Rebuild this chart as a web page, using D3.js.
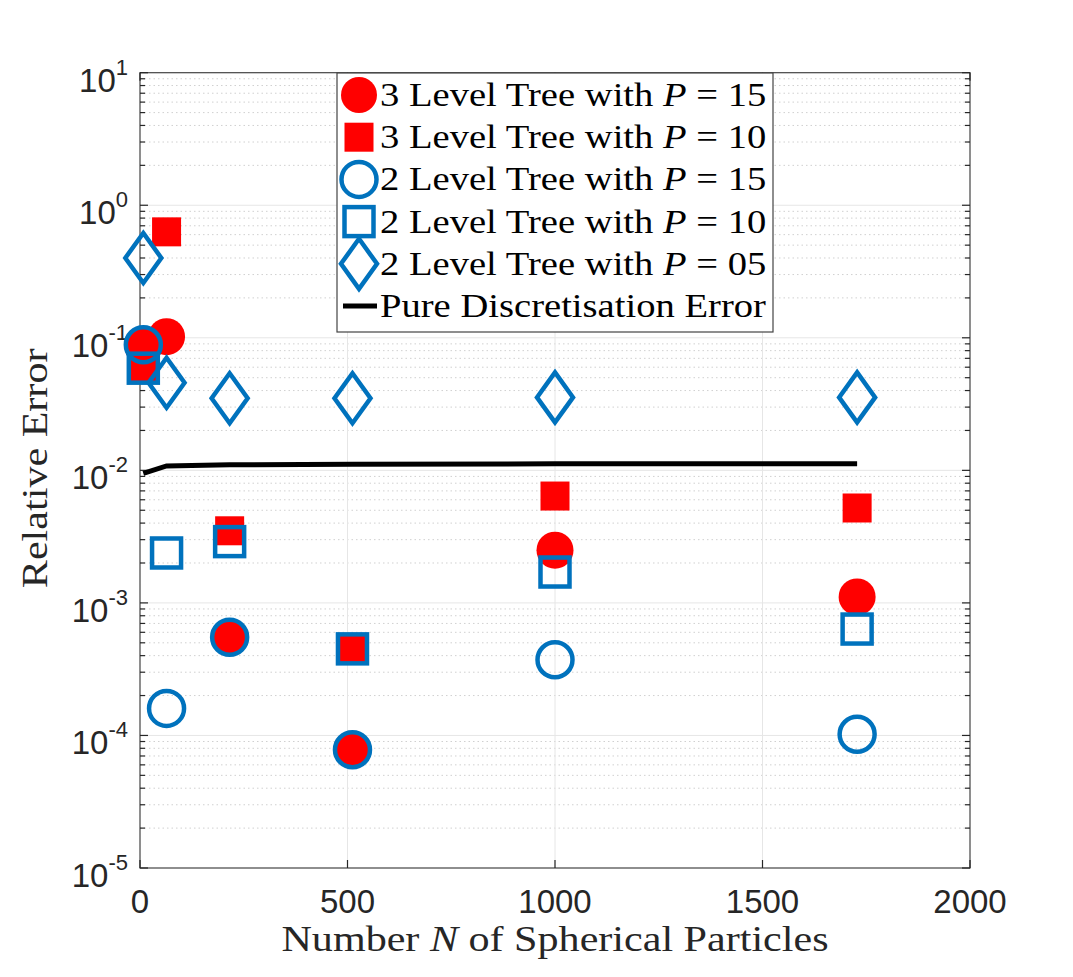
<!DOCTYPE html>
<html><head><meta charset="utf-8">
<script src="https://cdn.jsdelivr.net/npm/d3@7"></script>
<style>body{margin:0;background:#fff}svg{display:block}</style>
</head><body>
<svg id="chart" width="1073" height="977"></svg>
<script>
const N = [8, 64, 216, 512, 1000, 1728];
const tree3P15 = [0.085, 0.102, 5.5e-4, 7.8e-5, 2.5e-3, 1.11e-3];
const tree3P10 = [0.059, 0.63, 3.5e-3, 4.5e-4, 6.4e-3, 5.2e-3];
const tree2P15 = [0.0885, 1.6e-4, 5.5e-4, 7.8e-5, 3.73e-4, 1.02e-4];
const tree2P10 = [0.059, 2.38e-3, 2.9e-3, 4.5e-4, 1.71e-3, 6.35e-4];
const tree2P05 = [0.40, 0.0458, 0.035, 0.035, 0.0355, 0.0355];
const pureErr = [0.0095, 0.0108, 0.0110, 0.0111, 0.0112, 0.0112];
const xTicks = [0, 500, 1000, 1500, 2000];
const yExps = [-5, -4, -3, -2, -1, 0, 1];
const legendLabels = ["3 Level Tree with ", "3 Level Tree with ", "2 Level Tree with ", "2 Level Tree with ", "2 Level Tree with ", "Pure Discretisation Error"];
const legendP = ["15", "10", "15", "10", "05", null];

const RED = "#ff0000", BLUE = "#0072bd", AX = "#262626";
const L = 140, R = 970, T = 72.7, B = 868;
const SX = 1.17; // horizontal stretch to mimic Computer Modern widths
const svg = d3.select("#chart");
const x = d3.scaleLinear().domain([0, 2000]).range([L, R]);
const y = d3.scaleLog().domain([1e-5, 10]).range([B, T]);

// grids
const g = svg.append("g");
const minors = [];
for (let e = -5; e < 1; e++) for (let m = 2; m <= 9; m++) minors.push(m * Math.pow(10, e));
g.selectAll(".mg").data(minors).enter().append("line")
  .attr("x1", L).attr("x2", R).attr("y1", d => y(d)).attr("y2", d => y(d))
  .attr("stroke", "#d0d0d0").attr("stroke-width", 1).attr("stroke-dasharray", "1.5,3");
g.selectAll(".Mg").data(yExps.slice(1, -1)).enter().append("line")
  .attr("x1", L).attr("x2", R).attr("y1", d => y(Math.pow(10, d))).attr("y2", d => y(Math.pow(10, d)))
  .attr("stroke", "#e6e6e6").attr("stroke-width", 1);
g.selectAll(".Xg").data(xTicks.slice(1, -1)).enter().append("line")
  .attr("x1", d => x(d)).attr("x2", d => x(d)).attr("y1", T).attr("y2", B)
  .attr("stroke", "#e6e6e6").attr("stroke-width", 1);

// axes box and ticks
const ax = svg.append("g").attr("stroke", AX).attr("stroke-width", 1.2).attr("fill", "none");
ax.append("rect").attr("x", L).attr("y", T).attr("width", R - L).attr("height", B - T).attr("stroke", "#444");
yExps.forEach(e => {
  const yy = y(Math.pow(10, e));
  ax.append("line").attr("x1", L).attr("x2", L + 8).attr("y1", yy).attr("y2", yy);
  ax.append("line").attr("x1", R).attr("x2", R - 8).attr("y1", yy).attr("y2", yy);
});
minors.forEach(v => {
  const yy = y(v);
  ax.append("line").attr("x1", L).attr("x2", L + 5).attr("y1", yy).attr("y2", yy);
  ax.append("line").attr("x1", R).attr("x2", R - 5).attr("y1", yy).attr("y2", yy);
});
xTicks.forEach(t => {
  ax.append("line").attr("x1", x(t)).attr("x2", x(t)).attr("y1", B).attr("y2", B - 8);
  ax.append("line").attr("x1", x(t)).attr("x2", x(t)).attr("y1", T).attr("y2", T + 8);
});

// tick labels
const tf = "'Liberation Sans', Arial, Helvetica, sans-serif";
svg.append("g").selectAll("text").data(xTicks).enter().append("text")
  .attr("x", d => x(d)).attr("y", 913).attr("text-anchor", "middle")
  .attr("font-family", tf).attr("font-size", 33).attr("fill", AX).text(d => d);
yExps.forEach(e => {
  const yy = y(Math.pow(10, e));
  const t = svg.append("text").attr("x", 128).attr("y", yy + 19).attr("text-anchor", "end")
    .attr("font-family", tf).attr("font-size", 33).attr("fill", AX);
  t.append("tspan").text("10");
  t.append("tspan").attr("dy", -17).attr("font-size", 22).text(e);
});

// axis labels
const sf = "'Liberation Serif', 'Times New Roman', serif";
const xl = svg.append("text").attr("transform", `translate(${x(1000)},951) scale(${SX},1)`).attr("text-anchor", "middle")
  .attr("font-family", sf).attr("font-size", 36).attr("fill", AX);
xl.append("tspan").text("Number ");
xl.append("tspan").attr("font-style", "italic").text("N");
xl.append("tspan").text(" of Spherical Particles");
svg.append("text").attr("transform", `translate(47,${(T + B) / 2 - 2}) rotate(-90) scale(${SX},1)`).attr("text-anchor", "middle")
  .attr("font-family", sf).attr("font-size", 36).attr("fill", AX).text("Relative Error");

// marks
const plot = svg.append("g");
const pts = (arr) => N.map((n, i) => ({ n, v: arr[i] }));
plot.selectAll(".rc").data(pts(tree3P15)).enter().append("circle")
  .attr("cx", d => x(d.n)).attr("cy", d => y(d.v)).attr("r", 18.5).attr("fill", RED);
plot.selectAll(".rs").data(pts(tree3P10)).enter().append("rect")
  .attr("x", d => x(d.n) - 14.5).attr("y", d => y(d.v) - 14.5).attr("width", 29).attr("height", 29).attr("fill", RED);
plot.selectAll(".bc").data(pts(tree2P15)).enter().append("circle")
  .attr("cx", d => x(d.n)).attr("cy", d => y(d.v)).attr("r", 17.5)
  .attr("fill", "none").attr("stroke", BLUE).attr("stroke-width", 4.5);
plot.selectAll(".bs").data(pts(tree2P10)).enter().append("rect")
  .attr("x", d => x(d.n) - 14.5).attr("y", d => y(d.v) - 14.5).attr("width", 29).attr("height", 29)
  .attr("fill", "none").attr("stroke", BLUE).attr("stroke-width", 4.5);
const diamond = (cx, cy) => `M${cx},${cy - 25}L${cx + 18},${cy}L${cx},${cy + 25}L${cx - 18},${cy}Z`;
plot.selectAll(".bd").data(pts(tree2P05)).enter().append("path")
  .attr("d", d => diamond(x(d.n), y(d.v)))
  .attr("fill", "none").attr("stroke", BLUE).attr("stroke-width", 4.5).attr("stroke-linejoin", "miter");
plot.append("path").datum(pts(pureErr))
  .attr("d", d3.line().x(d => x(d.n)).y(d => y(d.v)))
  .attr("fill", "none").attr("stroke", "#000").attr("stroke-width", 5);

// legend
const lg = svg.append("g");
lg.append("rect").attr("x", 337).attr("y", 73).attr("width", 436).attr("height", 259)
  .attr("fill", "#fff").attr("stroke", "#444").attr("stroke-width", 1.2);
const rowY = i => 95 + i * 42.2;
const mx = 359;
lg.append("circle").attr("cx", mx).attr("cy", rowY(0)).attr("r", 18).attr("fill", RED);
lg.append("rect").attr("x", mx - 14.5).attr("y", rowY(1) - 14.5).attr("width", 29).attr("height", 29).attr("fill", RED);
lg.append("circle").attr("cx", mx).attr("cy", rowY(2)).attr("r", 17.5).attr("fill", "none").attr("stroke", BLUE).attr("stroke-width", 4.5);
lg.append("rect").attr("x", mx - 14.5).attr("y", rowY(3) - 14.5).attr("width", 29).attr("height", 29).attr("fill", "none").attr("stroke", BLUE).attr("stroke-width", 4.5);
lg.append("path").attr("d", diamond(mx, rowY(4))).attr("fill", "none").attr("stroke", BLUE).attr("stroke-width", 4.5);
lg.append("line").attr("x1", 343).attr("x2", 377).attr("y1", rowY(5)).attr("y2", rowY(5)).attr("stroke", "#000").attr("stroke-width", 5);
legendLabels.forEach((lab, i) => {
  const t = lg.append("text").attr("transform", `translate(380,${rowY(i) + 11}) scale(${SX},1)`)
    .attr("font-family", sf).attr("font-size", 33).attr("fill", "#000");
  t.append("tspan").text(lab);
  if (legendP[i] !== null) {
    t.append("tspan").attr("font-style", "italic").text("P");
    t.append("tspan").text(" = " + legendP[i]);
  }
});
</script>
</body></html>
